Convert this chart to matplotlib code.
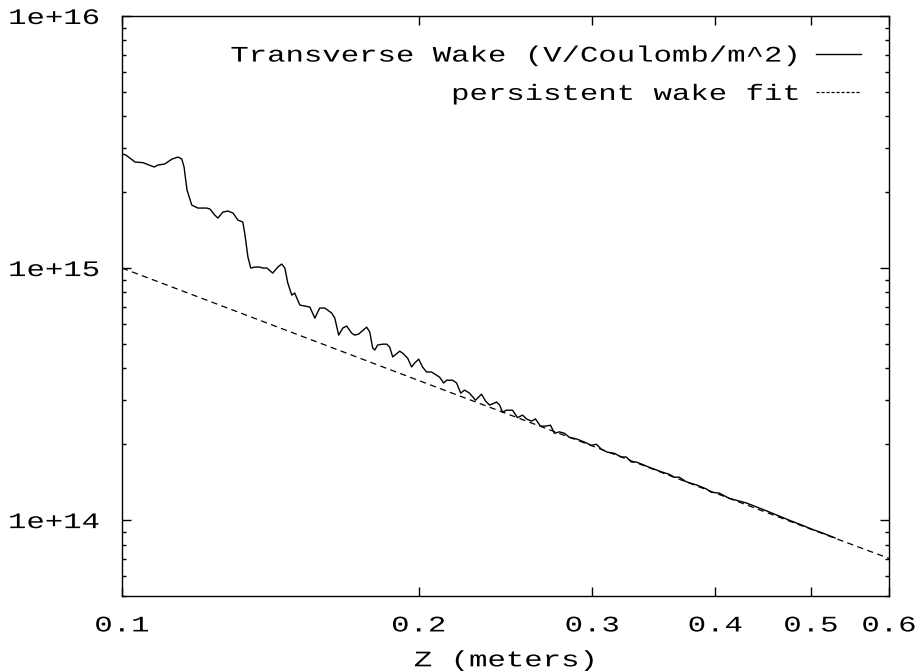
import numpy as np
import matplotlib
matplotlib.use("Agg")
import matplotlib.pyplot as plt
from matplotlib.ticker import FixedLocator, LogLocator, NullFormatter, NullLocator
from matplotlib.patheffects import AbstractPathEffect
from matplotlib.transforms import Affine2D

# ---- data ----
z_wake = [0.1000, 0.1009, 0.1031, 0.1050, 0.1065, 0.1078, 0.1088, 0.1105, 0.1124, 0.1140,
          0.1150, 0.1156, 0.1164, 0.1177, 0.1194, 0.1219, 0.1228, 0.1242, 0.1251, 0.1266,
          0.1281, 0.1296, 0.1311, 0.1326, 0.1332, 0.1342, 0.1351, 0.1364, 0.1380, 0.1390,
          0.1403, 0.1422, 0.1439, 0.1452, 0.1463, 0.1473, 0.1487, 0.1497, 0.1515, 0.1533,
          0.1551, 0.1569, 0.1587, 0.1606, 0.1632, 0.1644, 0.1659, 0.1675, 0.1690, 0.1710,
          0.1722, 0.1738, 0.1771, 0.1784, 0.1796, 0.1805, 0.1817, 0.1839, 0.1856, 0.1869,
          0.1882, 0.1913, 0.1926, 0.1949, 0.1967, 0.1981, 0.2000, 0.2018, 0.2037, 0.2061,
          0.2085, 0.2100, 0.2120, 0.2135, 0.2165, 0.2185, 0.2206, 0.2226, 0.2252, 0.2284,
          0.2316, 0.2338, 0.2360, 0.2399, 0.2416, 0.2433, 0.2455, 0.2490, 0.2519, 0.2549,
          0.2573, 0.2603, 0.2627, 0.2658, 0.2689, 0.2721, 0.2746, 0.2778, 0.2811, 0.2844,
          0.2891, 0.2945, 0.2994, 0.3029, 0.3065, 0.3108, 0.3159, 0.3211, 0.3248, 0.3287,
          0.3325, 0.3364, 0.3427, 0.3533, 0.3591, 0.3633, 0.3676, 0.3736, 0.3825, 0.3915,
          0.3961, 0.4036, 0.4131, 0.4228, 0.4298, 0.4399, 0.4503, 0.4609, 0.4751, 0.4897,
          0.5013, 0.5132, 0.5290]
w_wake_e14 = [28.35, 28.09, 26.34, 26.20, 25.63, 25.17, 25.63, 25.87, 27.07, 27.57,
              27.07, 25.17, 20.40, 17.78, 17.30, 17.30, 17.15, 16.23, 15.79, 16.68,
              16.84, 16.53, 15.50, 15.22, 13.77, 11.06, 10.00, 10.09, 10.09, 10.00,
              10.00, 9.55, 10.09, 10.37, 10.00, 8.72, 7.81, 7.96, 7.13, 7.07,
              7.00, 6.33, 6.94, 6.94, 6.63, 6.33, 5.42, 5.78, 5.89, 5.52,
              5.42, 5.47, 5.83, 5.57, 4.82, 4.73, 4.95, 4.99, 4.99, 4.86,
              4.44, 4.68, 4.60, 4.39, 4.05, 4.20, 4.35, 4.05, 3.87, 3.87,
              3.76, 3.69, 3.50, 3.59, 3.59, 3.50, 3.19, 3.28, 3.19, 2.99,
              3.16, 2.97, 2.86, 2.94, 2.86, 2.68, 2.73, 2.73, 2.55, 2.61,
              2.52, 2.47, 2.52, 2.36, 2.36, 2.38, 2.21, 2.24, 2.21, 2.13,
              2.10, 2.04, 1.98, 2.00, 1.91, 1.86, 1.84, 1.78, 1.78, 1.70,
              1.70, 1.67, 1.62, 1.55, 1.52, 1.48, 1.48, 1.42, 1.38, 1.33,
              1.29, 1.28, 1.22, 1.19, 1.17, 1.13, 1.09, 1.05, 1.00, 0.955,
              0.92, 0.89, 0.85]
z_fit = [0.1, 0.2, 0.3, 0.4, 0.5, 0.6]
w_fit = [1.0e15, 3.58e14, 1.97e14, 1.28e14, 9.2e13, 7.05e13]

x_ticks = [0.1, 0.2, 0.3, 0.4, 0.5, 0.6]
x_ticklabels = ["0.1", "0.2", "0.3", "0.4", "0.5", "0.6"]
y_ticks = [1e14, 1e15, 1e16]
y_ticklabels = ["1e+14", "1e+15", "1e+16"]
label_wake = "Transverse Wake (V/Coulomb/m^2)"
label_fit = "persistent wake fit"
x_label = "Z (meters)"

w_wake = [v * 1e14 for v in w_wake_e14]


class Stretch(AbstractPathEffect):
    """Widen glyphs horizontally (gnuplot-like wide monospace)."""
    def __init__(self, sx, anchor="center"):
        super().__init__()
        self.sx = sx
        self.anchor = anchor

    def draw_path(self, renderer, gc, tpath, affine, rgbFace=None):
        ext = tpath.get_extents()
        if self.anchor == "right":
            x0 = ext.x1
        elif self.anchor == "left":
            x0 = ext.x0
        else:
            x0 = 0.5 * (ext.x0 + ext.x1)
        t = Affine2D().translate(-x0, 0).scale(self.sx, 1.0).translate(x0, 0)
        renderer.draw_path(gc, tpath, t + affine, rgbFace)


plt.rcParams["font.family"] = ["Liberation Mono", "DejaVu Sans Mono"]
FS = 16
SX = 1.38

fig = plt.figure(figsize=(9.19, 6.72), dpi=100)
ax = fig.add_axes([122 / 919, 1 - 596 / 672, (889 - 122) / 919, (596 - 16) / 672])

ax.plot(z_wake, w_wake, color="black", lw=1.0, label=label_wake)
ax.plot(z_fit, w_fit, color="black", lw=0.9, ls=(0, (5, 3.5)), label=label_fit)

ax.set_xscale("log")
ax.set_yscale("log")
ax.set_xlim(0.1, 0.6)
ax.set_ylim(5e13, 1e16)

ax.xaxis.set_major_locator(FixedLocator(x_ticks))
ax.xaxis.set_minor_locator(NullLocator())
ax.set_xticks(x_ticks)
ax.set_xticklabels(x_ticklabels)
ax.yaxis.set_major_locator(FixedLocator(y_ticks))
ax.set_yticks(y_ticks)
ax.set_yticklabels(y_ticklabels)
ax.yaxis.set_minor_locator(LogLocator(base=10, subs=np.arange(2, 10)))
ax.yaxis.set_minor_formatter(NullFormatter())

ax.tick_params(which="both", direction="in", top=True, right=True, width=1.0, color="black")
ax.tick_params(which="major", length=6.5)
ax.tick_params(which="minor", length=3.2)
ax.tick_params(axis="x", which="major", pad=14, labelsize=FS)
ax.tick_params(axis="y", which="major", pad=16, labelsize=FS)
for s in ax.spines.values():
    s.set_linewidth(1.0)

xl = ax.set_xlabel(x_label, fontsize=FS, labelpad=10)

leg = ax.legend(loc="upper right", bbox_to_anchor=(0.963, 0.949), frameon=False,
                markerfirst=False, fontsize=FS, handlelength=2.0, handletextpad=0.7,
                labelspacing=0.78, borderpad=0, borderaxespad=0)
leg.get_lines()[1].set_linestyle((0, (2.5, 1.5)))

fig.canvas.draw()
for t in ax.get_xticklabels():
    t.set_path_effects([Stretch(SX, "center")])
for t in ax.get_yticklabels():
    t.set_path_effects([Stretch(SX, "right")])
xl.set_path_effects([Stretch(SX, "center")])
for t in leg.get_texts():
    t.set_path_effects([Stretch(SX, "right")])

fig.savefig("out.png", dpi=100)
